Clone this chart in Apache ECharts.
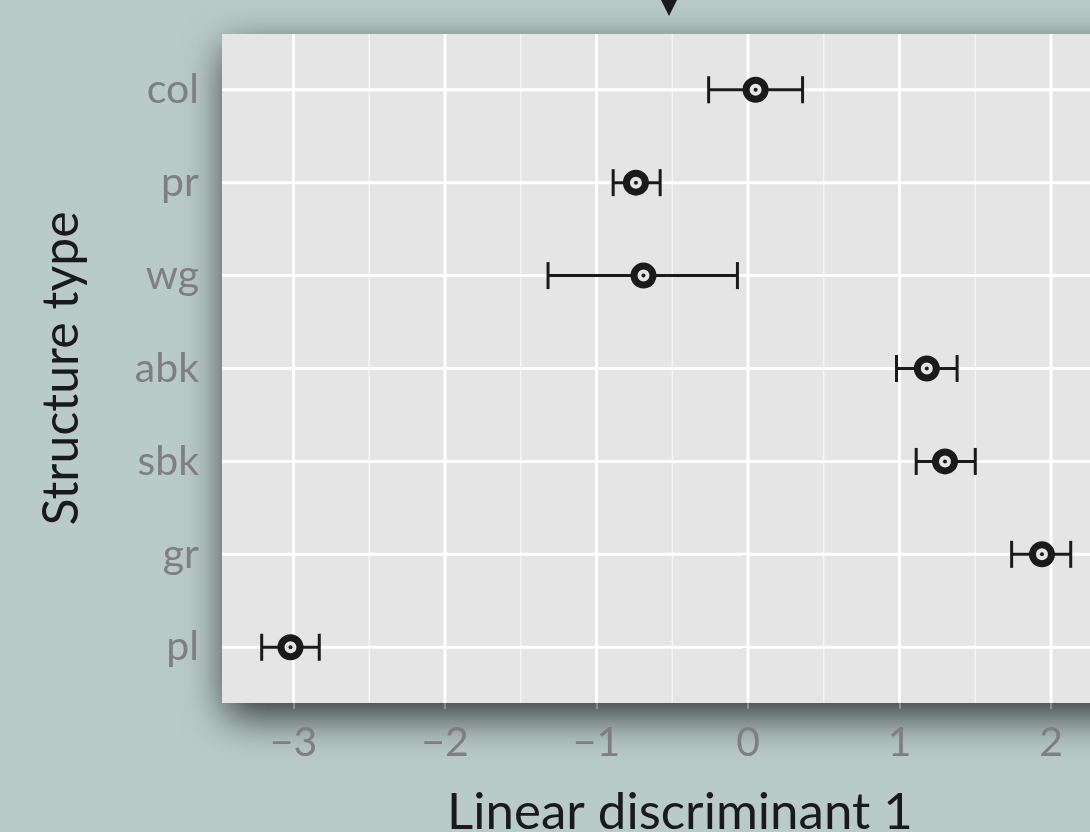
<!DOCTYPE html>
<html>
<head>
<meta charset="utf-8">
<script src="https://cdn.jsdelivr.net/npm/echarts@6/dist/echarts.min.js"></script>
<style>
  html, body { margin: 0; padding: 0; background: #b9cbc7; }
  #chart { width: 1090px; height: 832px; }
</style>
</head>
<body>
<div id="chart"></div>
<script>
// Structure types, listed top to bottom
const structureTypes = ['col', 'pr', 'wg', 'abk', 'sbk', 'gr', 'pl'];
// Mean score on the first linear discriminant, with interval bounds
const meanLD1  = [0.05, -0.74, -0.69, 1.18, 1.30, 1.94, -3.02];
const lowerLD1 = [-0.26, -0.89, -1.32, 0.98, 1.11, 1.74, -3.21];
const upperLD1 = [0.36, -0.58, -0.07, 1.38, 1.50, 2.13, -2.83];
// Axis ticks
const xTickValues  = [-3, -2, -1, 0, 1, 2];
const xMinorValues = [-2.5, -1.5, -0.5, 0.5, 1.5, 2.5];
const yTickValues  = structureTypes.map((_, i) => i + 1);

const FONT = 'Lato, "Open Sans", sans-serif';
const INK = '#1a1a1a';
const LABEL_GREY = '#7f7f7f';

const chart = echarts.init(document.getElementById('chart'), null, { renderer: 'canvas' });

const barRows = structureTypes.map((_, i) => [i + 1, lowerLD1[i], upperLD1[i]]);
const pointRows = structureTypes.map((_, i) => [meanLD1[i], i + 1]);

chart.setOption({
  backgroundColor: '#b9cbc7',
  animation: false,
  grid: {
    // the panel runs past the right edge of the page
    left: 222, top: 34, width: 916, height: 669,
    outerBoundsMode: 'none',
    containLabel: false,
    show: true,
    backgroundColor: '#e5e5e5',
    borderWidth: 0,
    shadowColor: 'rgba(0,0,0,0.72)',
    shadowBlur: 38,
    shadowOffsetX: 3,
    shadowOffsetY: 14
  },
  xAxis: {
    type: 'value',
    min: -3.472, max: 2.574,
    name: 'Linear discriminant 1',
    nameLocation: 'middle',
    nameGap: 84,
    nameTextStyle: { fontFamily: FONT, fontSize: 51, color: INK },
    axisLine: { show: false },
    splitLine: { show: false },
    axisTick: { show: true, customValues: xTickValues, length: 6, lineStyle: { color: '#8a8f8e', width: 2 } },
    axisLabel: {
      customValues: xTickValues,
      margin: 19,
      fontFamily: FONT, fontSize: 41, color: LABEL_GREY,
      formatter: v => (v < 0 ? '\u2212' + Math.abs(v) : String(v))
    }
  },
  yAxis: {
    type: 'value',
    min: 0.4, max: 7.6,
    inverse: true,
    name: 'Structure type',
    nameLocation: 'middle',
    nameRotate: 90,
    nameGap: 135,
    nameTextStyle: { fontFamily: FONT, fontSize: 50, color: INK },
    axisLine: { show: false },
    splitLine: { show: false },
    axisTick: { show: true, customValues: yTickValues, length: 6, lineStyle: { color: '#8a8f8e', width: 2 } },
    axisLabel: {
      customValues: yTickValues,
      margin: 23,
      fontFamily: FONT, fontSize: 41, color: LABEL_GREY,
      formatter: v => structureTypes[Math.round(v) - 1] || ''
    }
  },
  graphic: [{
    type: 'polygon',
    shape: { points: [[661, 0], [677, 0], [669, 16]] },
    style: { fill: INK }
  }],
  series: [
    {
      // white panel grid: minor and major verticals, horizontals at each type
      type: 'custom',
      silent: true,
      z: 1,
      data: [0],
      renderItem: (params, api) => {
        const cs = params.coordSys;
        const children = [];
        xMinorValues.forEach(v => {
          const x = api.coord([v, 1])[0];
          children.push({ type: 'line', shape: { x1: x, y1: cs.y, x2: x, y2: cs.y + cs.height },
            style: { stroke: '#f4f4f4', lineWidth: 1.5 } });
        });
        xTickValues.forEach(v => {
          const x = api.coord([v, 1])[0];
          children.push({ type: 'line', shape: { x1: x, y1: cs.y, x2: x, y2: cs.y + cs.height },
            style: { stroke: '#ffffff', lineWidth: 3 } });
        });
        yTickValues.forEach(v => {
          const y = api.coord([0, v])[1];
          children.push({ type: 'line', shape: { x1: cs.x, y1: y, x2: cs.x + cs.width, y2: y },
            style: { stroke: '#ffffff', lineWidth: 3 } });
        });
        return { type: 'group', children };
      }
    },
    {
      // interval bars with end caps
      type: 'custom',
      silent: true,
      z: 2,
      data: barRows,
      renderItem: (params, api) => {
        const y = api.value(0);
        const a = api.coord([api.value(1), y]);
        const b = api.coord([api.value(2), y]);
        const h = 13.5;
        const st = { stroke: INK, lineWidth: 3 };
        return {
          type: 'group',
          children: [
            { type: 'line', shape: { x1: a[0], y1: a[1], x2: b[0], y2: b[1] }, style: st },
            { type: 'line', shape: { x1: a[0], y1: a[1] - h, x2: a[0], y2: a[1] + h }, style: st },
            { type: 'line', shape: { x1: b[0], y1: b[1] - h, x2: b[0], y2: b[1] + h }, style: st }
          ]
        };
      }
    },
    {
      type: 'scatter',
      z: 3,
      silent: true,
      symbol: 'circle',
      symbolSize: 19,
      data: pointRows,
      itemStyle: { color: '#e5e5e5', borderColor: INK, borderWidth: 7, opacity: 1 }
    },
    {
      type: 'scatter',
      z: 4,
      silent: true,
      symbol: 'circle',
      symbolSize: 4,
      data: pointRows,
      itemStyle: { color: INK, opacity: 1 }
    }
  ]
});
</script>
</body>
</html>
